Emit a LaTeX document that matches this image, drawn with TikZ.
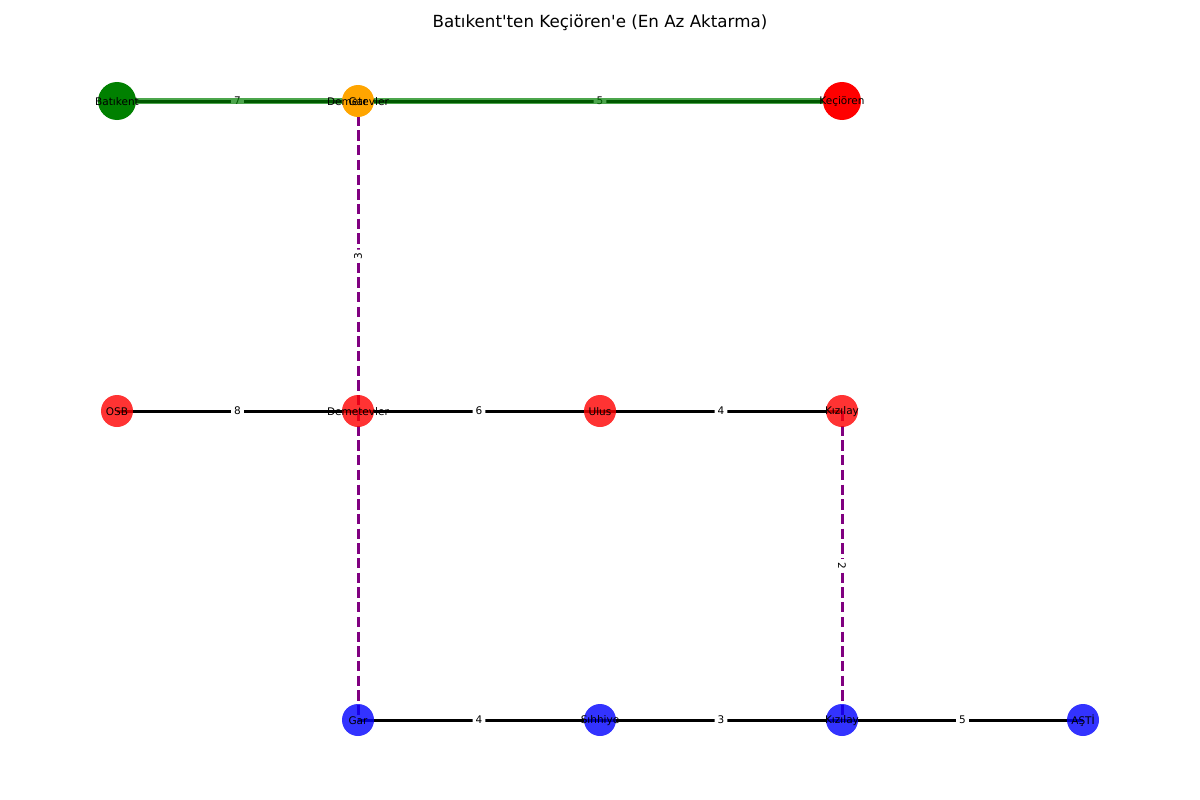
\documentclass[tikz,border=0pt]{standalone}
\usepackage{fontspec}
\setmainfont{DejaVu Sans}
\usetikzlibrary{calc}
\definecolor{mplgreen}{HTML}{008000}
\definecolor{mplorange}{HTML}{FFA500}
\definecolor{mplred}{HTML}{FF0000}
\definecolor{mplblue}{HTML}{0000FF}
\definecolor{mplpurple}{HTML}{800080}
\begin{document}
\begin{tikzpicture}[x=1pt,y=-1pt,
  station/.style={circle, inner sep=0pt, draw=none, minimum size=32pt},
  bigstation/.style={station, minimum size=38pt},
  redst/.style={station, fill=mplred, fill opacity=0.8},
  bluest/.style={station, fill=mplblue, fill opacity=0.8},
  lbl/.style={font=\fontsize{10.5}{12}\selectfont, text=black, inner sep=0pt, yshift=-1pt},
  elbl/.style={fill=white, rounded corners=2pt, inner sep=3pt, font=\fontsize{10.5}{12}\selectfont},
  track/.style={line width=3pt, black},
  transfer/.style={line width=3pt, mplpurple, dash pattern=on 10.3pt off 4.4pt},
  route/.style={line width=5.5pt, mplgreen, opacity=0.7}
]
\useasboundingbox (0,0) rectangle (1200,800);
\node[font=\fontsize{16.7}{20}\selectfont] (title) at (600,23) {Batıkent\textquotesingle ten Keçiören\textquotesingle e (En Az Aktarma)};

% coordinates of stations
\coordinate (bat) at (117,101);
\coordinate (demT) at (358,101);
\coordinate (kec) at (842,101);
\coordinate (osb) at (117,411);
\coordinate (demM) at (358,411);
\coordinate (ulus) at (600,411);
\coordinate (kizM) at (842,411);
\coordinate (gar) at (358,720);
\coordinate (sih) at (600,720);
\coordinate (kizB) at (842,720);
\coordinate (asti) at (1083,720);

% edges
\draw[track] (bat) -- (demT);
\draw[track] (demT) -- (kec);
\draw[track] (osb) -- (demM);
\draw[track] (demM) -- (ulus);
\draw[track] (ulus) -- (kizM);
\draw[track] (gar) -- (sih);
\draw[track] (sih) -- (kizB);
\draw[track] (kizB) -- (asti);
\draw[transfer] (demT) -- (demM);
\draw[transfer] (demM) -- (gar);
\draw[transfer] (kizM) -- (kizB);

% edge labels
\node[elbl] (e1) at ($(bat)!0.5!(demT)$) {7};
\node[elbl] (e2) at ($(demT)!0.5!(kec)$) {5};
\node[elbl] (e3) at ($(osb)!0.5!(demM)$) {8};
\node[elbl] (e4) at ($(demM)!0.5!(ulus)$) {6};
\node[elbl] (e5) at ($(ulus)!0.5!(kizM)$) {4};
\node[elbl] (e6) at ($(gar)!0.5!(sih)$) {4};
\node[elbl] (e7) at ($(sih)!0.5!(kizB)$) {3};
\node[elbl] (e8) at ($(kizB)!0.5!(asti)$) {5};
\node[elbl, rotate=90] (e9) at ($(demT)!0.5!(demM)$) {3};
\node[elbl, rotate=-90] (e10) at ($(kizM)!0.5!(kizB)$) {2};

% highlighted route
\draw[route] (bat) -- (demT);
\draw[route] (demT) -- (kec);

% station circles
\node[bigstation, fill=mplgreen] (nbat) at (bat) {};
\node[station, fill=mplorange] (ndemT) at (demT) {};
\node[bigstation, fill=mplred] (nkec) at (kec) {};
\node[redst] (nosb) at (osb) {};
\node[redst] (ndemM) at (demM) {};
\node[redst] (nulus) at (ulus) {};
\node[redst] (nkizM) at (kizM) {};
\node[bluest] (ngar) at (gar) {};
\node[bluest] (nsih) at (sih) {};
\node[bluest] (nkizB) at (kizB) {};
\node[bluest] (nasti) at (asti) {};

% station labels
\node[lbl] at (bat) {Batıkent};
\node[lbl] at (demT) {Demetevler};
\node[lbl] at (demT) {Gar};
\node[lbl] at (kec) {Keçiören};
\node[lbl] at (osb) {OSB};
\node[lbl] at (demM) {Demetevler};
\node[lbl] at (ulus) {Ulus};
\node[lbl] at (kizM) {Kızılay};
\node[lbl] at (gar) {Gar};
\node[lbl] at (sih) {Sıhhiye};
\node[lbl] at (kizB) {Kızılay};
\node[lbl] at (asti) {AŞTİ};
\end{tikzpicture}
\end{document}
